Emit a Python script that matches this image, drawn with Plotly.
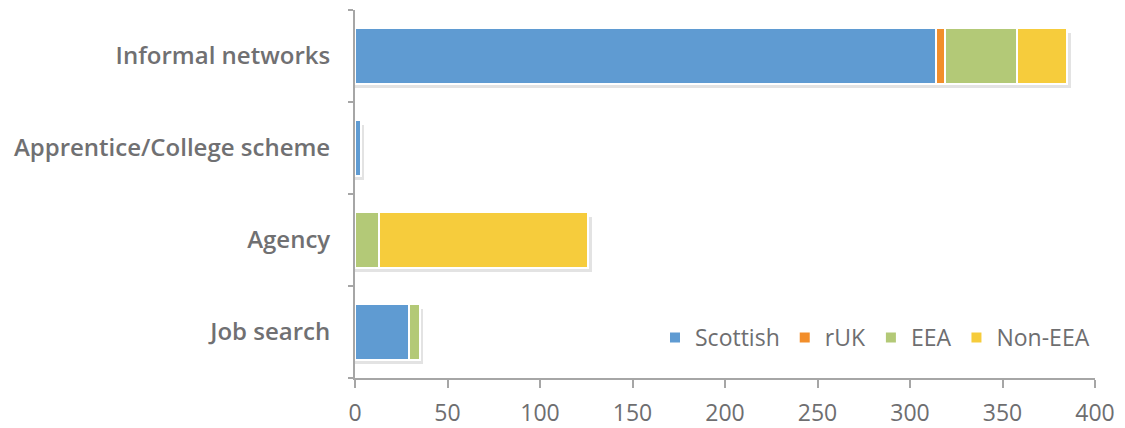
import plotly.graph_objects as go

categories = ["Job search", "Agency", "Apprentice/College scheme", "Informal networks"]
scottish = [29, 0, 3, 314]
ruk = [0, 0, 0, 5]
eea = [6, 13, 0, 39]
non_eea = [0, 113, 0, 27]

series = [
    ("Scottish", scottish, "#5f9bd2"),
    ("rUK", ruk, "#f28e2b"),
    ("EEA", eea, "#b3c977"),
    ("Non-EEA", non_eea, "#f6cc3c"),
]

totals = [sum(v) for v in zip(scottish, ruk, eea, non_eea)]
BW = 0.6

fig = go.Figure()
# soft drop shadow behind each stacked bar (on the main y axis, drawn underneath)
fig.add_trace(go.Bar(
    y=categories, x=[t + 2 for t in totals], orientation="h",
    width=BW, offset=-BW / 2 - 0.045,
    marker=dict(color="rgba(0,0,0,0.11)", line=dict(width=0)),
    showlegend=False, hoverinfo="skip", yaxis="y",
))
for name, vals, col in series:
    fig.add_trace(go.Bar(
        y=categories, x=vals, name=name, orientation="h", width=BW,
        marker=dict(color=col, line=dict(color="white", width=2)),
        yaxis="y2",
    ))

fig.update_layout(
    barmode="stack",
    width=1125, height=428,
    margin=dict(l=355, r=30, t=10, b=50, autoexpand=False),
    plot_bgcolor="white", paper_bgcolor="white",
    font=dict(family="Open Sans", color="#6e6e70", size=20),
    legend=dict(orientation="h", x=1.0, xanchor="right", y=0.11, yanchor="middle",
                font=dict(size=23, color="#6e6e70"), bgcolor="rgba(0,0,0,0)",
                itemwidth=30, traceorder="normal"),
    xaxis=dict(range=[0, 400], dtick=50, showgrid=False, zeroline=False,
               showline=True, linecolor="#a6a6a6", linewidth=2, automargin=False,
               ticks="outside", ticklen=8, tickcolor="#a6a6a6", tickwidth=2,
               ticklabelstandoff=5,
               tickfont=dict(size=23, color="#6e6e70", family="Open Sans")),
    yaxis=dict(showgrid=False, showline=True, linecolor="#a6a6a6", linewidth=2,
               range=[-0.5, 3.5], categoryorder="array", categoryarray=categories,
               automargin=False,
               ticks="outside", ticklen=5, tickcolor="#a6a6a6", tickwidth=2,
               tickson="boundaries", ticklabelstandoff=18,
               tickfont=dict(size=24, color="#707072", family="Open Sans", weight=600)),
    yaxis2=dict(overlaying="y", range=[-0.5, 3.5], categoryorder="array",
                categoryarray=categories, showticklabels=False, showgrid=False,
                showline=False, ticks=""),
)

fig.write_html("out.html")
